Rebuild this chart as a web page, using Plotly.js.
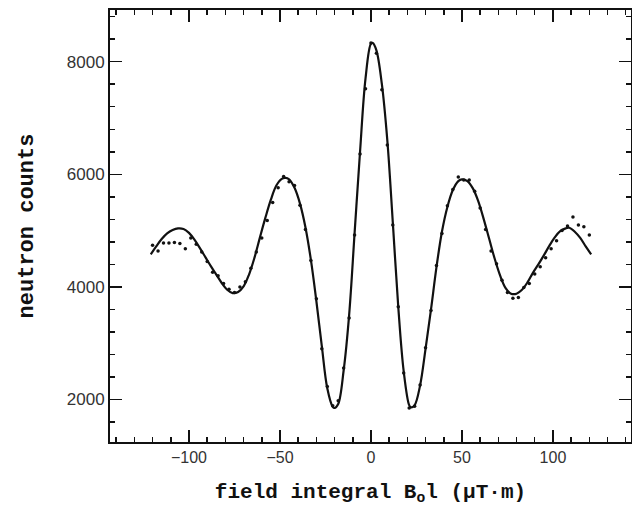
<!DOCTYPE html>
<html>
<head>
<meta charset="utf-8">
<script src="https://cdn.plot.ly/plotly-3.0.1.min.js"></script>
<style>html,body{margin:0;padding:0;background:#fff;}#chart{width:632px;height:506px;}</style>
</head>
<body>
<div id="chart"></div>
<script>
// Fitted curve
const fitField = [-121,-118,-115,-112,-109,-106,-103,-100,-97,-94,-91,-88,-85,-82,-79,-76,-73,-70,-67,-64,-61,-58,-55,-52,-49,-47,-45,-42,-39,-36,-33,-30,-27,-24,-21,-20,-18,-15,-12,-9,-6,-3,0,1,3,6,9,12,15,18,21,22,24,27,30,33,36,39,42,45,48,50,53,56,59,62,65,68,71,74,77,80,83,86,89,92,95,98,101,104,107,109,112,115,118,121];
const fitCounts = [4580,4720,4850,4950,5010,5040,5030,4960,4840,4690,4530,4370,4220,4070,3950,3890,3910,4010,4220,4520,4880,5230,5550,5800,5920,5935,5910,5760,5480,5060,4480,3750,2950,2200,1870,1850,1920,2520,3500,4950,6400,7700,8320,8330,8200,7600,6600,5150,3650,2500,1900,1860,1900,2250,2900,3600,4350,4980,5420,5720,5880,5910,5880,5750,5520,5200,4850,4500,4200,3980,3880,3880,3950,4080,4250,4400,4560,4730,4880,4990,5040,5050,4980,4870,4720,4580];

// Measured data points
const dataField = [-120,-117,-114,-111,-108,-105,-102,-99,-96,-93,-90,-87,-84,-81,-78,-75,-72,-69,-66,-63,-60,-57,-54,-51,-48,-45,-42,-39,-36,-33,-30,-27,-24,-21,-18,-15,-12,-9,-6,-3,0,3,6,9,12,15,18,21,24,27,30,33,36,39,42,45,48,51,54,57,60,63,66,69,72,75,78,81,84,87,90,93,96,99,102,105,108,111,114,117,120];
const dataCounts = [4740,4640,4780,4780,4790,4770,4680,4870,4760,4620,4450,4260,4200,4060,3960,3900,4000,4090,4330,4620,4870,5180,5500,5760,5960,5870,5800,5450,5020,4470,3790,2900,2230,1890,1980,2560,3450,4920,6360,7520,8330,8150,7500,6520,5100,3650,2470,1850,1880,2260,2920,3580,4380,4950,5440,5730,5950,5900,5900,5700,5400,5020,4640,4410,4120,3900,3800,3810,3990,4060,4230,4360,4520,4680,4820,5000,5080,5240,5100,5070,4920];

const xTickVals = [-100,-50,0,50,100];
const yTickVals = [2000,4000,6000,8000];

const traces = [
  {x: fitField, y: fitCounts, type: 'scatter', mode: 'lines',
   line: {color: '#111', width: 2.2, shape: 'spline', smoothing: 1.0}, hoverinfo: 'skip'},
  {x: dataField, y: dataCounts, type: 'scatter', mode: 'markers',
   marker: {color: '#111', size: 3.5, symbol: 'circle'}}
];

const axisCommon = {
  showline: true, linecolor: '#111', linewidth: 2, mirror: 'allticks',
  ticks: 'inside', ticklen: 12, tickwidth: 1.5, tickcolor: '#111',
  showgrid: false, zeroline: false,
  tickfont: {family: 'Liberation Sans, Arial, sans-serif', size: 16, color: '#333'}
};

const layout = {
  width: 632, height: 506,
  margin: {l: 110, r: 1, t: 10, b: 64},
  paper_bgcolor: '#fff', plot_bgcolor: '#fff',
  showlegend: false,
  xaxis: Object.assign({}, axisCommon, {
    range: [-143.4, 142.9], tickvals: xTickVals,
    minor: {dtick: 10, tick0: 0, ticks: 'inside', ticklen: 5, tickwidth: 1.5, tickcolor: '#111', showgrid: false},
    title: {text: 'field integral B<sub>o</sub>l (μT·m)', standoff: 18,
            font: {family: 'Liberation Mono, Courier New, monospace', size: 21, color: '#111', weight: 'bold'}}
  }),
  yaxis: Object.assign({}, axisCommon, {
    range: [1246, 8918], tickvals: yTickVals,
    minor: {dtick: 400, tick0: 0, ticks: 'inside', ticklen: 5, tickwidth: 1.5, tickcolor: '#111', showgrid: false},
    tickfont: {family: 'Liberation Sans, Arial, sans-serif', size: 17, color: '#333'},
    title: {text: 'neutron counts', standoff: 27,
            font: {family: 'Liberation Mono, Courier New, monospace', size: 22, color: '#111', weight: 'bold'}}
  })
};

Plotly.newPlot('chart', traces, layout, {displayModeBar: false, staticPlot: true});
</script>
</body>
</html>
